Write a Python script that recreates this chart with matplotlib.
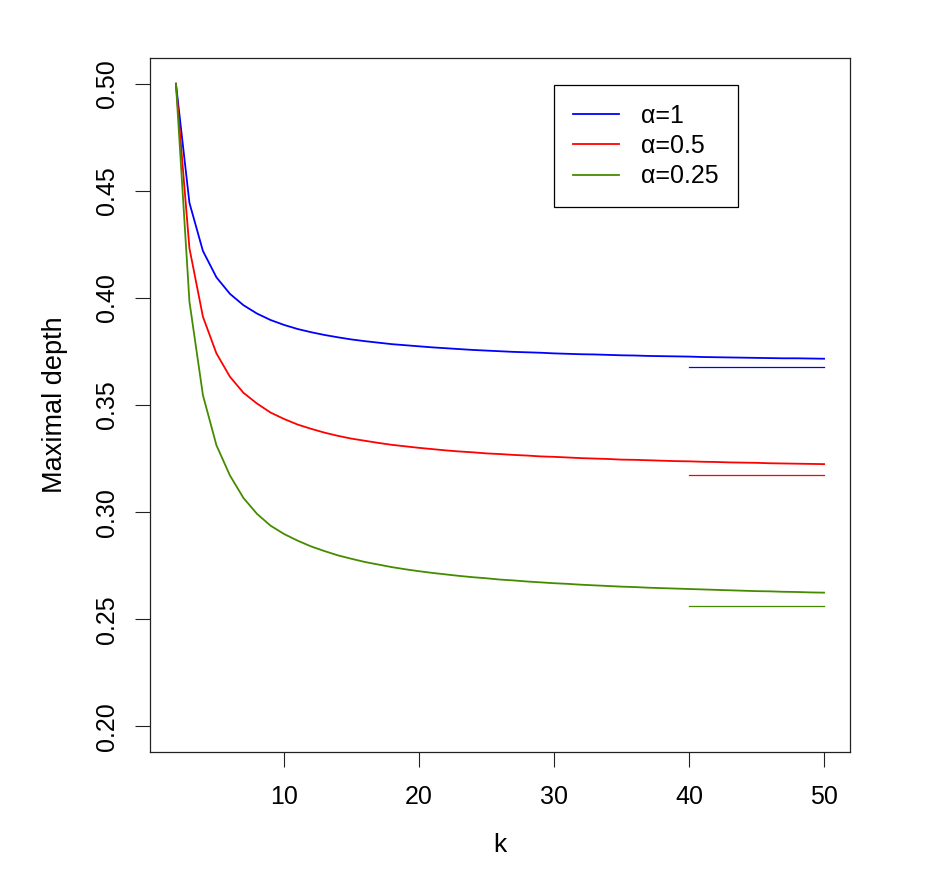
import matplotlib
matplotlib.use("Agg")
import matplotlib.pyplot as plt
from matplotlib.lines import Line2D

plt.rcParams['font.family'] = ['Liberation Sans', 'DejaVu Sans']

# values, k = 2..50
k = list(range(2, 51))
depth_a1 = [0.5000, 0.4444, 0.4219, 0.4096, 0.4019, 0.3966, 0.3927, 0.3897, 0.3874,
            0.3855, 0.3840, 0.3827, 0.3816, 0.3806, 0.3798, 0.3791, 0.3784, 0.3779,
            0.3774, 0.3769, 0.3765, 0.3761, 0.3757, 0.3754, 0.3751, 0.3748, 0.3746,
            0.3744, 0.3741, 0.3739, 0.3737, 0.3736, 0.3734, 0.3732, 0.3731, 0.3729,
            0.3728, 0.3727, 0.3726, 0.3724, 0.3723, 0.3722, 0.3721, 0.3720, 0.3719,
            0.3718, 0.3718, 0.3717, 0.3716]
depth_a05 = [0.5000, 0.4232, 0.3912, 0.3741, 0.3632, 0.3557, 0.3507, 0.3465, 0.3435,
             0.3409, 0.3389, 0.3371, 0.3356, 0.3343, 0.3333, 0.3323, 0.3314, 0.3307,
             0.3300, 0.3294, 0.3288, 0.3283, 0.3279, 0.3274, 0.3271, 0.3267, 0.3264,
             0.3260, 0.3258, 0.3255, 0.3252, 0.3250, 0.3248, 0.3245, 0.3244, 0.3242,
             0.3240, 0.3238, 0.3237, 0.3235, 0.3234, 0.3232, 0.3231, 0.3230, 0.3228,
             0.3227, 0.3226, 0.3225, 0.3224]
depth_a025 = [0.5000, 0.3983, 0.3546, 0.3312, 0.3171, 0.3066, 0.2992, 0.2937, 0.2898,
              0.2867, 0.2840, 0.2818, 0.2798, 0.2782, 0.2767, 0.2755, 0.2743, 0.2733,
              0.2724, 0.2716, 0.2709, 0.2702, 0.2696, 0.2691, 0.2685, 0.2681, 0.2676,
              0.2672, 0.2668, 0.2665, 0.2661, 0.2658, 0.2655, 0.2652, 0.2650, 0.2647,
              0.2645, 0.2643, 0.2641, 0.2639, 0.2637, 0.2635, 0.2633, 0.2631, 0.2630,
              0.2628, 0.2627, 0.2625, 0.2624]
# limiting values, drawn as short segments over k = 40..50
limits = [0.3679, 0.3175, 0.2563]
limit_k = [40, 50]

labels = ["α=1", "α=0.5", "α=0.25"]
colors = ["#0000FF", "#FF0000", "#458B00"]
series = [depth_a1, depth_a05, depth_a025]

fig = plt.figure(figsize=(9.41, 8.74), dpi=100)
ax = fig.add_axes([150/941, 1-752/874, 700/941, 694/874])

for ys, lim, col in zip(series, limits, colors):
    ax.plot(k, ys, color=col, lw=1.3)
    ax.plot(limit_k, [lim, lim], color=col, lw=0.9)

ax.set_xlim(2 - 48*0.04, 50 + 48*0.04)
ax.set_ylim(0.2 - 0.3*0.04, 0.5 + 0.3*0.04)
ax.set_xticks([10, 20, 30, 40, 50])
ax.set_yticks([0.20, 0.25, 0.30, 0.35, 0.40, 0.45, 0.50])
ax.set_yticklabels(["0.20", "0.25", "0.30", "0.35", "0.40", "0.45", "0.50"])
ax.tick_params(length=10.5, width=0.8, labelsize=18, color="#222222")
ax.tick_params(axis='x', pad=13.5)
ax.tick_params(axis='y', pad=11.5)
for lab in ax.get_yticklabels():
    lab.set_rotation(90)
    lab.set_va('center')
for sp in ax.spines.values():
    sp.set_linewidth(0.9)
    sp.set_color("#222222")

ax.set_xlabel("k", fontsize=19, labelpad=17)
ax.set_ylabel("Maximal depth", fontsize=19.5, labelpad=20)

handles = [Line2D([0], [0], color=c, lw=1.3) for c in colors]
leg = ax.legend(handles, labels, loc='upper left', bbox_to_anchor=(404/700, 1-27/694),
                fontsize=18, frameon=True, fancybox=False, edgecolor='black',
                handlelength=1.85, handletextpad=0.9, labelspacing=0.25,
                borderpad=0.75, borderaxespad=0, framealpha=1)
leg.get_frame().set_linewidth(0.9)

fig.savefig("out.png", dpi=100, facecolor="white")
